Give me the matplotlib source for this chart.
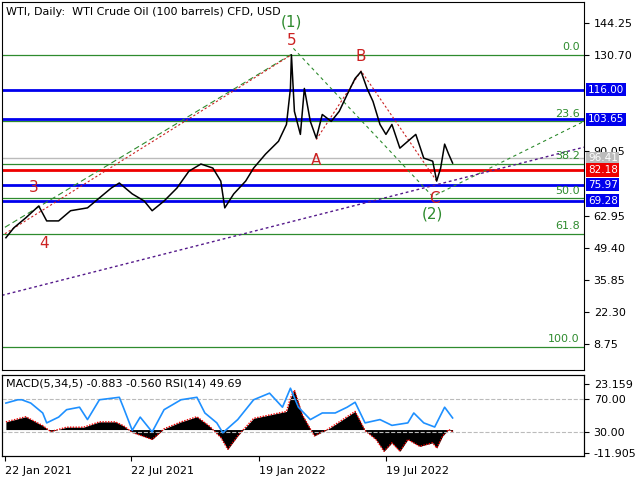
import matplotlib
matplotlib.use("Agg")
import matplotlib.pyplot as plt
import numpy as np

# price path (x in chart pixel-bar units, price USD)
px = [4,12,24,37,45,57,69,86,98,110,118,131,143,151,163,176,188,200,212,220,224,233,245,253,265,278,286,290,291,294,300,304,310,316,322,331,339,347,355,361,367,373,380,386,392,400,408,416,424,433,437,441,445,449,453]
price = [53.6,57.8,62.0,67.0,60.7,60.7,65.0,66.2,70.4,74.6,76.7,72.1,69.1,65.0,69.1,74.6,81.7,84.7,83.0,77.5,66.2,72.1,77.5,83.0,88.9,94.3,101.4,116.6,130.8,106.9,97.2,116.6,102.7,95.6,105.6,102.7,106.9,114.0,120.8,123.7,116.6,111.1,101.4,97.2,101.4,91.4,94.3,97.2,87.2,85.9,77.5,83.0,93.1,88.9,85.1]

rsi_x = [4,16,20,29,41,45,57,65,78,86,98,118,122,131,139,151,163,180,196,204,216,222,237,253,269,282,290,298,310,322,335,347,355,365,380,392,408,414,424,435,445,453]
rsi = [65,69,69,65,53,41,48,57,60,45,69,72,60,32,48,30,57,69,72,53,41,29,45,69,77,60,83,60,45,53,53,60,66,41,45,38,41,53,41,36,60,47]

macd_x = [4,24,41,49,65,82,98,114,122,131,151,163,180,196,208,220,227,237,253,269,286,290,294,302,314,327,339,355,365,376,384,392,400,408,420,433,437,443,449,453]
macd = [3.9,6.5,2.0,-1.0,1.2,1.2,3.9,3.9,2.0,-1.4,-5.0,0.4,3.9,6.5,2.0,-4.0,-10.0,-3.2,5.7,7.4,9.2,16.0,20.0,7.4,-3.2,0.0,3.9,9.2,-0.5,-5.0,-11.0,-6.7,-11.0,-5.0,-8.5,-6.7,-9.4,-3.2,0.0,-1.0]

levels_blue = [116.00, 103.65, 75.97, 69.28]
level_red = 82.18
fib_labels = ["0.0", "23.6", "38.2", "50.0", "61.8", "100.0"]
fib_values = [130.7, 102.7, 84.7, 70.2, 55.3, 7.5]
yticks = [144.25, 130.70, 90.05, 62.95, 49.40, 35.85, 22.30, 8.75]

fig = plt.figure(figsize=(6.4, 4.8), dpi=100)
fig.patch.set_facecolor("white")
ax = fig.add_axes([0.003, 110/480, 582/640, 368/480])
ax.set_xlim(0, 585)
ax.set_ylim(-2.2, 153.06)

for v, l in zip(fib_values, fib_labels):
    ax.axhline(v, color="#2e8b2e", lw=0.9)
    ax.text(581, v + 1.2, l, color="#2e8b2e", fontsize=8, ha="right", va="bottom")
ax.axhline(87.2, color="#bbbbbb", lw=1)
for v in levels_blue:
    ax.axhline(v, color="#0000ee", lw=2)
ax.axhline(level_red, color="#ee0000", lw=2)

# wave lines
ax.plot([3, 291], [58.0, 131.0], color="#2e8b2e", lw=0.8, ls=(0, (5, 3)))
ax.plot([3, 291], [55.3, 130.8], color="#cc2222", lw=0.8, ls=(0, (2, 2)))
ax.plot([293, 433, 585], [133.5, 71.0, 102.7], color="#2e8b2e", lw=0.8, ls=(0, (3, 3)))
ax.plot([316, 361, 437], [95.0, 124.0, 77.5], color="#cc2222", lw=0.8, ls=(0, (2, 2)))
ax.plot([0, 585], [29.3, 91.8], color="#551a8b", lw=1, ls=(0, (2, 2)))

ax.plot(px, price, color="black", lw=1.1)

for t, x, y, c in [("(1)", 291, 144.5, "#2e8b2e"), ("5", 291, 137, "#cc2222"), ("B", 361, 130, "#cc2222"),
                   ("A", 316, 86, "#cc2222"), ("C", 435, 70, "#cc2222"), ("(2)", 433, 63.5, "#2e8b2e"),
                   ("3", 32, 75, "#cc2222"), ("4", 42, 51, "#cc2222")]:
    ax.text(x, y, t, color=c, fontsize=11, ha="center", va="center")

ax.text(4, 149, "WTI, Daily:  WTI Crude Oil (100 barrels) CFD, USD", fontsize=8, va="center")

ax.yaxis.tick_right()
ax.set_yticks(yticks)
ax.set_yticklabels([f"{v:.2f}" for v in yticks], fontsize=8)
ax.set_xticks([])
for v, c, lab in [(116.00, "#0000ee", "116.00"), (103.65, "#0000ee", "103.65"), (87.2, "#bbbbbb", "96.41"),
                  (82.18, "#ee0000", "82.18"), (75.97, "#0000ee", "75.97"), (69.28, "#0000ee", "69.28")]:
    ax.text(589, v, lab, color="white", fontsize=7.5, va="center", ha="left", clip_on=False,
            bbox=dict(boxstyle="square,pad=0.15", fc=c, ec="none"))

# indicator panel
ax2 = fig.add_axes([0.003, 24/480, 582/640, 81/480])
ax3 = ax2.twinx()
ax2.set_xlim(0, 585)
ax2.set_ylim(-11.905 - 1.5, 23.159 + 4.5)
ax2.fill_between(macd_x, 0, macd, color="black", lw=0)
ax2.plot(macd_x, macd, color="#ee0000", lw=1, ls=(0, (1, 1)))
ax2.set_xticks([3, 130, 258, 386])
ax2.set_xticklabels(["22 Jan 2021", "22 Jul 2021", "19 Jan 2022", "19 Jul 2022"], fontsize=8, ha="left")
ax3.set_ylim(0.9, 99)
ax3.axhline(70, color="#bbbbbb", lw=0.8, ls="--")
ax3.axhline(30, color="#bbbbbb", lw=0.8, ls="--")
ax3.plot(rsi_x, rsi, color="#1e90ff", lw=1.2)
ax3.set_yticks([70, 30])
ax3.set_yticklabels(["70.00", "30.00"], fontsize=8)
ax2.yaxis.tick_right()
ax2.set_yticks([23.159, -11.905])
ax2.set_yticklabels(["23.159", "-11.905"], fontsize=8)
ax2.text(4, 23.159, "MACD(5,34,5) -0.883 -0.560 RSI(14) 49.69", fontsize=8, va="center")

fig.savefig("out.png", dpi=100)
